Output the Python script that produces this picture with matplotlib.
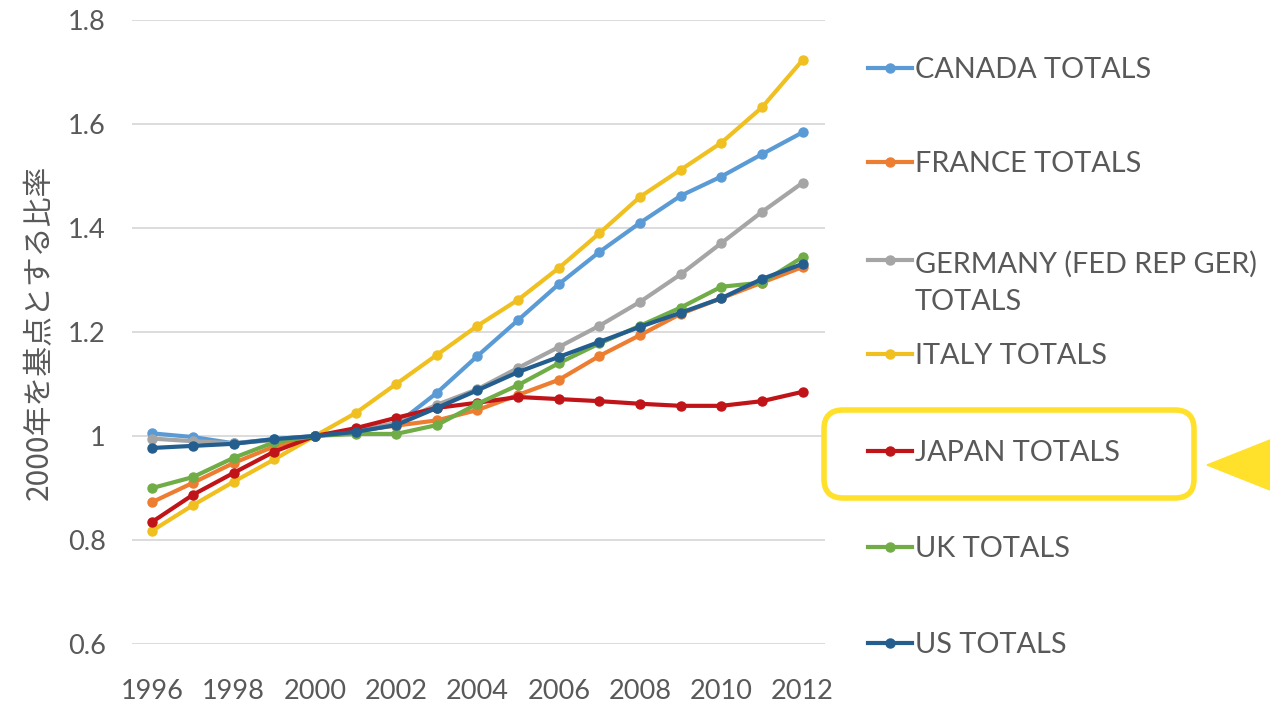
import matplotlib
matplotlib.use("Agg")
import matplotlib.pyplot as plt
from matplotlib.lines import Line2D
from matplotlib.patches import FancyBboxPatch, Polygon

# years on the x axis
years = list(range(1996, 2013))

# ratio to the year 2000
canada = [1.005, 0.998, 0.986, 0.994, 1.0, 1.008, 1.022, 1.083, 1.154, 1.223, 1.292,
          1.354, 1.410, 1.462, 1.499, 1.542, 1.584]
france = [0.873, 0.910, 0.948, 0.980, 1.0, 1.010, 1.020, 1.030, 1.050, 1.079, 1.108,
          1.154, 1.194, 1.235, 1.265, 1.295, 1.325]
germany = [0.995, 0.990, 0.986, 0.992, 1.0, 1.010, 1.025, 1.060, 1.090, 1.131, 1.171,
           1.212, 1.258, 1.311, 1.371, 1.431, 1.487]
italy = [0.818, 0.867, 0.912, 0.955, 1.0, 1.044, 1.100, 1.156, 1.212, 1.262, 1.323,
         1.390, 1.460, 1.512, 1.564, 1.632, 1.723]
japan = [0.835, 0.887, 0.929, 0.970, 1.0, 1.015, 1.035, 1.054, 1.064, 1.075, 1.071,
         1.067, 1.062, 1.058, 1.058, 1.067, 1.085]
uk = [0.900, 0.921, 0.958, 0.988, 1.0, 1.004, 1.004, 1.021, 1.062, 1.098, 1.140,
      1.178, 1.212, 1.247, 1.287, 1.295, 1.344]
us = [0.977, 0.981, 0.985, 0.994, 1.0, 1.008, 1.021, 1.054, 1.088, 1.123, 1.152,
      1.181, 1.210, 1.237, 1.265, 1.302, 1.331]

names = ["CANADA TOTALS", "FRANCE TOTALS", "GERMANY (FED REP GER)\nTOTALS",
         "ITALY TOTALS", "JAPAN TOTALS", "UK TOTALS", "US TOTALS"]
series = [canada, france, germany, italy, japan, uk, us]
colors = ["#5B9BD5", "#ED7D31", "#A5A5A5", "#F0C020", "#C01418", "#70AD47", "#245E8F"]

xticks = [1996, 1998, 2000, 2002, 2004, 2006, 2008, 2010, 2012]
yticks = [0.6, 0.8, 1.0, 1.2, 1.4, 1.6, 1.8]
ytick_labels = ["0.6", "0.8", "1", "1.2", "1.4", "1.6", "1.8"]

W, H = 1270, 704
txt_color = "#595959"
plt.rcParams["font.family"] = ["Lato", "DejaVu Sans"]

fig = plt.figure(figsize=(W / 100, H / 100), dpi=100)
ax = fig.add_axes([132 / W, 60 / H, 693 / W, 624 / H])

for vals, c in zip(series, colors):
    ax.plot(years, vals, color=c, lw=3, marker="o", ms=6.5, solid_capstyle="round")

ax.set_xlim(1995.5, 2012.55)
ax.set_ylim(0.6, 1.8)
ax.set_xticks(xticks)
ax.set_yticks(yticks)
ax.set_yticklabels(ytick_labels)
ax.grid(axis="y", color="#D9D9D9", lw=1.3)
ax.set_axisbelow(True)
for s in ax.spines.values():
    s.set_visible(False)
ax.tick_params(axis="both", length=0, labelsize=19.5, colors=txt_color)
ax.tick_params(axis="y", pad=19)
ax.tick_params(axis="x", pad=25)
ax.set_ylabel("2000年を基点とする比率", fontsize=21.5, color=txt_color,
              family=["Noto Sans CJK JP", "DejaVu Sans"], labelpad=9)

# legend on the right, drawn by hand to match the layout
def fx(px):
    return px / W

def fy(py):
    return 1 - py / H

legend_y = [68, 162, 260, 354, 451, 547, 643]
line_step = 40  # px between wrapped legend lines
for name, c, py in zip(names, colors, legend_y):
    fig.add_artist(Line2D([fx(868), fx(912)], [fy(py), fy(py)], color=c, lw=3,
                          transform=fig.transFigure))
    fig.add_artist(Line2D([fx(890)], [fy(py)], color=c, marker="o", ms=6.5,
                          transform=fig.transFigure))
    extra = line_step * name.count("\n")
    fig.text(fx(915), fy(py + 10 + extra), name, fontsize=20.8, color=txt_color,
             va="baseline", ha="left", linespacing=1.55)

# yellow highlight around Japan
box = FancyBboxPatch((fx(824), fy(498)), fx(1194 - 824), (498 - 410) / H,
                     boxstyle="round,pad=0,rounding_size=0.015",
                     transform=fig.transFigure, fill=False,
                     edgecolor="#FFE12B", lw=4, mutation_aspect=W / H)
fig.add_artist(box)
arrow = Polygon([(fx(1207), fy(465)), (fx(1280), fy(436)), (fx(1280), fy(494))],
                closed=True, transform=fig.transFigure, color="#FFE12B")
fig.add_artist(arrow)

fig.savefig("out.png", dpi=100, facecolor="white")
